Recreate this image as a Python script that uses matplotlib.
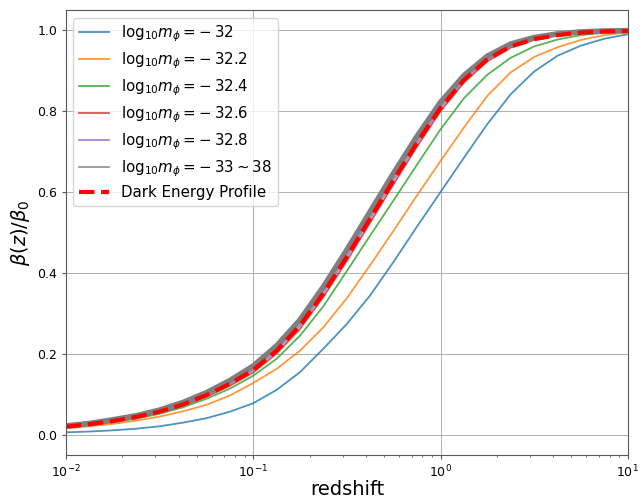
import numpy as np
import matplotlib
matplotlib.use('Agg')
import matplotlib.pyplot as plt

# redshift points (even steps in log z)
z = [0.01, 0.01334, 0.01778, 0.02371, 0.03162, 0.04217, 0.05623, 0.07499, 0.1,
     0.1334, 0.1778, 0.2371, 0.3162, 0.4217, 0.5623, 0.7499, 1.0, 1.334, 1.778,
     2.371, 3.162, 4.217, 5.623, 7.499, 10.0]

# beta(z)/beta_0 for each log10 m_phi
b_32 = [0.006, 0.008, 0.011, 0.015, 0.021, 0.030, 0.041, 0.057, 0.078, 0.111, 0.155,
        0.213, 0.274, 0.345, 0.428, 0.515, 0.600, 0.685, 0.768, 0.842, 0.898, 0.937,
        0.962, 0.979, 0.990]
b_322 = [0.016, 0.021, 0.027, 0.035, 0.045, 0.058, 0.074, 0.097, 0.128, 0.163, 0.208,
         0.266, 0.338, 0.420, 0.505, 0.592, 0.677, 0.760, 0.838, 0.896, 0.934, 0.958,
         0.976, 0.988, 0.995]
b_324 = [0.018, 0.024, 0.031, 0.040, 0.052, 0.068, 0.089, 0.114, 0.146, 0.188, 0.245,
         0.318, 0.405, 0.493, 0.580, 0.668, 0.755, 0.832, 0.890, 0.932, 0.960, 0.977,
         0.988, 0.994, 0.997]
b_326 = [0.019, 0.025, 0.033, 0.043, 0.055, 0.072, 0.094, 0.121, 0.154, 0.201, 0.262,
         0.341, 0.430, 0.525, 0.620, 0.713, 0.800, 0.871, 0.923, 0.957, 0.976, 0.987,
         0.993, 0.996, 0.998]
b_328 = [0.020, 0.026, 0.034, 0.044, 0.057, 0.075, 0.098, 0.126, 0.160, 0.208, 0.270,
         0.350, 0.440, 0.535, 0.630, 0.722, 0.808, 0.877, 0.928, 0.960, 0.978, 0.988,
         0.994, 0.997, 0.998]
b_33 = [0.022, 0.028, 0.037, 0.047, 0.061, 0.080, 0.104, 0.134, 0.170, 0.220, 0.284,
        0.366, 0.457, 0.552, 0.647, 0.738, 0.822, 0.888, 0.936, 0.966, 0.982, 0.991,
        0.996, 0.998, 0.999]
b_de = [0.020, 0.026, 0.034, 0.044, 0.057, 0.075, 0.098, 0.126, 0.160, 0.208, 0.270,
        0.350, 0.440, 0.535, 0.630, 0.722, 0.808, 0.877, 0.928, 0.960, 0.978, 0.988,
        0.994, 0.997, 0.998]

curves = [b_32, b_322, b_324, b_326, b_328]
labels = [r'$\mathrm{log}_{10}m_{\phi}=-\:32$', r'$\mathrm{log}_{10}m_{\phi}=-\:32.2$',
          r'$\mathrm{log}_{10}m_{\phi}=-\:32.4$', r'$\mathrm{log}_{10}m_{\phi}=-\:32.6$',
          r'$\mathrm{log}_{10}m_{\phi}=-\:32.8$']
colors = ['C0', 'C1', 'C2', 'C3', 'C4']

fig = plt.figure(figsize=(6.4, 5), dpi=100)
ax = fig.add_axes([0.103, 0.09, 0.878, 0.89])

for y, lab, c in zip(curves, labels, colors):
    ax.plot(z, y, color=c, lw=1.3, alpha=0.8, label=lab)
ax.plot(z, b_33, color='C7', lw=4, label=r'$\mathrm{log}_{10}m_{\phi}=-\:33\sim38$')
ax.plot(z, b_de, color='red', lw=3, ls='--', label='Dark Energy Profile')

ax.set_xscale('log')
ax.set_xlim(0.01, 10)
ax.set_ylim(-0.05, 1.05)
ax.grid(True, color='#b0b0b0', lw=0.7)
ax.set_xlabel('redshift', fontsize=14, labelpad=0)
ax.set_ylabel(r'$\beta(z)/\beta_0$', fontsize=14)
ax.tick_params(labelsize=9, length=2.6, color='0.35')
ax.tick_params(which='minor', length=1.6, color='0.35')
for s in ax.spines.values():
    s.set_color('0.35')

leg = ax.legend(loc='upper left', fontsize=10.8, labelspacing=0.42)
gl = leg.get_lines()[5]
gl.set_linewidth(1.3)
gl.set_alpha(0.8)

plt.savefig('out.png', dpi=100)
